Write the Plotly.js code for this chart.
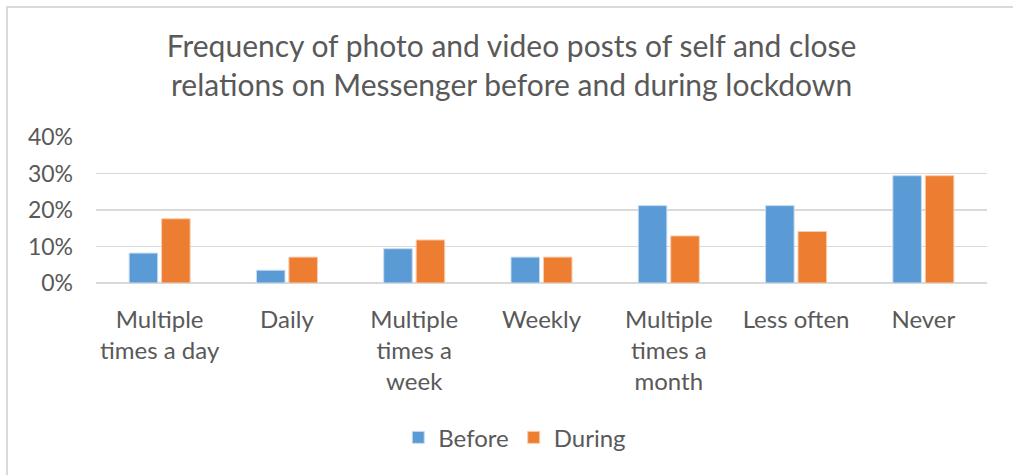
<!DOCTYPE html>
<html>
<head>
<meta charset="utf-8">
<script src="https://cdn.plot.ly/plotly-3.0.1.min.js"></script>
<style>
html, body { margin: 0; padding: 0; background: #fff; }
#wrap { position: relative; width: 1013px; height: 475px; overflow: hidden; }
#chart { width: 1013px; height: 475px; }
#frame { position: absolute; left: 6px; top: 6px; width: 1020px; height: 480px;
  border-left: 2px solid #d9d9d9; border-top: 2px solid #d9d9d9; pointer-events: none; }
</style>
</head>
<body>
<div id="wrap"><div id="chart"></div><div id="frame"></div></div>
<script>
const categories = ["Multiple<br>times a day", "Daily", "Multiple<br>times a<br>week", "Weekly", "Multiple<br>times a<br>month", "Less often", "Never"];
const before = [0.082, 0.035, 0.094, 0.071, 0.212, 0.212, 0.294];
const during = [0.176, 0.071, 0.118, 0.071, 0.129, 0.141, 0.294];
const yTicks = [0, 0.1, 0.2, 0.3, 0.4];
const yTickLabels = ["0%", "10%", "20%", "30%", "40%"];

const FONT = "Lato, 'Noto Sans', sans-serif";
const GREY = "#595959";

const traces = [
  { type: "bar", name: "Before", x: categories, y: before,
    marker: { color: "#5B9BD5", line: { color: "#c9dcf0", width: 1 } }, hoverinfo: "y" },
  { type: "bar", name: "During", x: categories, y: during,
    marker: { color: "#ED7D31", line: { color: "#f8cdb0", width: 1 } }, hoverinfo: "y" }
];

const layout = {
  width: 1013, height: 475,
  margin: { l: 96, r: 26, t: 137, b: 192 },
  paper_bgcolor: "#ffffff", plot_bgcolor: "#ffffff",
  font: { family: FONT, color: GREY, size: 23 },
  title: {
    text: "Frequency of photo and video posts of self and close<br>relations on Messenger before and during lockdown",
    font: { family: FONT, size: 30, color: GREY },
    x: 0.505, xanchor: "center", y: 0.879, yanchor: "middle", yref: "container"
  },
  barmode: "group", bargap: 0.49, bargroupgap: 0.12,
  xaxis: {
    type: "category", showgrid: false, zeroline: false, showline: false,
    ticks: "", tickfont: { family: FONT, size: 24, color: GREY }, ticklabelstandoff: 20, fixedrange: true
  },
  yaxis: {
    range: [0, 0.4], tickvals: yTicks, ticktext: yTickLabels,
    showgrid: true, gridcolor: "#d9d9d9", gridwidth: 1.5,
    zeroline: true, zerolinecolor: "#d9d9d9", zerolinewidth: 1.5,
    showline: false, ticks: "", tickfont: { family: FONT, size: 23, color: GREY },
    ticklabelstandoff: 22, fixedrange: true
  },
  showlegend: true,
  legend: {
    orientation: "h", x: 0.47, xanchor: "center", y: -1.06, yanchor: "middle",
    font: { family: FONT, size: 24, color: GREY }, itemwidth: 30, traceorder: "normal"
  }
};

Plotly.newPlot("chart", traces, layout, { displayModeBar: false, staticPlot: true });
</script>
</body>
</html>
